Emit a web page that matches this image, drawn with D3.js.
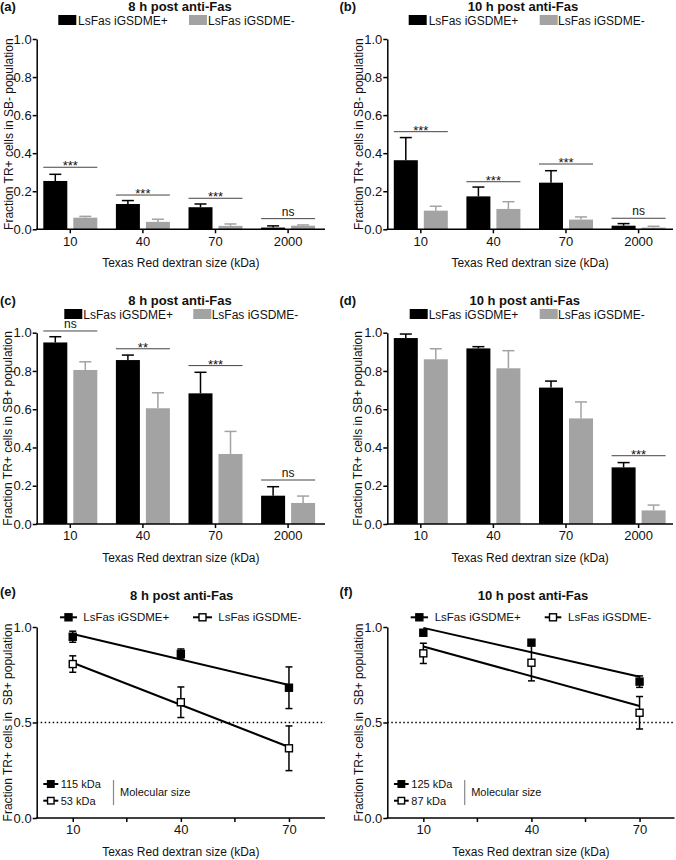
<!DOCTYPE html>
<html><head><meta charset="utf-8">
<script src="https://cdn.jsdelivr.net/npm/d3@7"></script>
<style>body{margin:0;background:#fff}svg{display:block}text{font-family:"Liberation Sans",Arial,sans-serif;fill:#111}</style>
</head><body><svg id="c" width="676" height="860"></svg>
<script>
// ---------- DATA ----------
const categories = ["10", "40", "70", "2000"];
const seriesNames = ["LsFas iGSDME+", "LsFas iGSDME-"];
const yTicksBar = [0, 0.2, 0.4, 0.6, 0.8, 1.0];

// (a) 8 h, SB- population
const a_plus = [0.254, 0.133, 0.116, 0.009];
const a_plusErr = [0.035, 0.018, 0.017, 0.009];
const a_minus = [0.061, 0.039, 0.018, 0.019];
const a_minusErr = [0.007, 0.014, 0.010, 0.004];
const a_sig = ["***", "***", "***", "ns"];
const a_sigY = [0.326, 0.180, 0.163, 0.056];

// (b) 10 h, SB- population
const b_plus = [0.363, 0.173, 0.245, 0.019];
const b_plusErr = [0.119, 0.049, 0.063, 0.011];
const b_minus = [0.098, 0.107, 0.051, 0.009];
const b_minusErr = [0.023, 0.038, 0.014, 0.007];
const b_sig = ["***", "***", "***", "ns"];
const b_sigY = [0.513, 0.250, 0.343, 0.058];

// (c) 8 h, SB+ population
const c_plus = [0.949, 0.857, 0.683, 0.148];
const c_plusErr = [0.030, 0.026, 0.110, 0.047];
const c_minus = [0.805, 0.605, 0.366, 0.110];
const c_minusErr = [0.043, 0.081, 0.118, 0.036];
const c_sig = ["ns", "**", "***", "ns"];
const c_sigY = [1.009, 0.916, 0.828, 0.230];

// (d) 10 h, SB+ population
const d_plus = [0.972, 0.918, 0.713, 0.296];
const d_plusErr = [0.021, 0.009, 0.034, 0.025];
const d_minus = [0.861, 0.814, 0.552, 0.071];
const d_minusErr = [0.055, 0.092, 0.086, 0.028];
const d_sig = [null, null, null, "***"];
const d_sigY = [null, null, null, 0.357];

// (e),(f) line charts
const lineX = [10, 40, 70];
const xTicksLine = [10, 40, 70];
const xMinorLine = [25, 55];
const yTicksLine = [0, 0.5, 1.0];
const e_plus = [0.949, 0.859, 0.682];
const e_plusErr = [0.029, 0.026, 0.109];
const e_minus = [0.806, 0.606, 0.365];
const e_minusErr = [0.043, 0.080, 0.117];
const e_sizes = ["115 kDa", "53 kDa"];
const f_plus = [0.970, 0.918, 0.714];
const f_plusErr = [0.015, 0.009, 0.030];
const f_minus = [0.862, 0.813, 0.551];
const f_minusErr = [0.053, 0.095, 0.085];
const f_sizes = ["125 kDa", "87 kDa"];
const refLine = 0.5;

// ---------- STYLE ----------
const BLACK = "#000", GRAY = "#a3a3a3";
const svg = d3.select("#c");

function styleAxis(g, fs) {
  g.selectAll(".domain").attr("stroke", "#000").attr("stroke-width", 1.5);
  g.selectAll(".tick line").attr("stroke", "#000").attr("stroke-width", 1.5);
  g.selectAll(".tick text").attr("font-size", fs).attr("fill", "#111")
    .style("font-family", '"Liberation Sans",Arial,sans-serif');
}

function header(p) {
  svg.append("text").attr("x", p.labelX).attr("y", p.labelY).attr("font-size", 13)
    .attr("font-weight", "bold").text(p.label);
  svg.append("text").attr("x", p.titleX).attr("y", p.titleY).attr("font-size", 13)
    .attr("font-weight", "bold").attr("text-anchor", "middle").text(p.title);
}

function yTitle(p) {
  svg.append("text").attr("transform", `translate(${p.yTitleX},${(p.top + p.bottom) / 2}) rotate(-90)`)
    .attr("font-size", 12).attr("text-anchor", "middle").attr("dominant-baseline", "central")
    .style("white-space", "pre").text(p.yTitle);
  svg.append("text").attr("x", (p.x0 + p.x1) / 2).attr("y", p.bottom + 37.5)
    .attr("font-size", 12).attr("text-anchor", "middle").text("Texas Red dextran size (kDa)");
}

function barPanel(p) {
  const x = d3.scaleBand().domain(categories).range([p.bandStart, p.bandStart + 290.4]).padding(0);
  const y = d3.scaleLinear().domain([0, 1]).range([p.bottom, p.top]);
  const cx = c => x(c) + x.bandwidth() / 2;
  header(p);
  // legend
  [BLACK, GRAY].forEach((col, i) => {
    svg.append("rect").attr("x", p.legSq[i]).attr("y", p.legY - 5).attr("width", 18).attr("height", 10).attr("fill", col);
    svg.append("text").attr("x", p.legTx[i]).attr("y", p.legY + 4.5).attr("font-size", 12).text(seriesNames[i]);
  });
  const g = svg.append("g");
  const series = [
    { v: p.plus, e: p.plusErr, col: BLACK, off: -27 },
    { v: p.minus, e: p.minusErr, col: GRAY, off: 3 }
  ];
  series.forEach(s => {
    categories.forEach((c, i) => {
      const bx = cx(c) + s.off, mid = bx + 12;
      g.append("line").attr("x1", mid).attr("x2", mid).attr("y1", y(s.v[i])).attr("y2", y(s.v[i] + s.e[i]))
        .attr("stroke", s.col).attr("stroke-width", 1.5);
      g.append("line").attr("x1", mid - 6).attr("x2", mid + 6).attr("y1", y(s.v[i] + s.e[i])).attr("y2", y(s.v[i] + s.e[i]))
        .attr("stroke", s.col).attr("stroke-width", 1.5);
      g.append("rect").attr("x", bx).attr("width", 24).attr("y", y(s.v[i])).attr("height", y(0) - y(s.v[i]))
        .attr("fill", s.col);
    });
  });
  // significance
  categories.forEach((c, i) => {
    if (!p.sig[i]) return;
    const ly = y(p.sigY[i]);
    svg.append("line").attr("x1", cx(c) - 27).attr("x2", cx(c) + 27).attr("y1", ly).attr("y2", ly)
      .attr("stroke", "#444").attr("stroke-width", 1);
    const star = p.sig[i].startsWith("*");
    svg.append("text").attr("x", cx(c)).attr("y", star ? ly + 3 : ly - 3).attr("font-size", star ? 13 : 12)
      .attr("text-anchor", "middle").text(p.sig[i]);
  });
  // axes
  const ya = svg.append("g").attr("transform", `translate(${p.x0},0)`)
    .call(d3.axisLeft(y).tickValues(yTicksBar).tickFormat(d3.format(".1f")).tickSize(4).tickSizeOuter(0).tickPadding(1));
  styleAxis(ya, 13);
  const xa = svg.append("g").attr("transform", `translate(0,${p.bottom})`)
    .call(d3.axisBottom(x).tickSize(4).tickSizeOuter(0).tickPadding(3));
  xa.select(".domain").remove();
  styleAxis(xa, 13);
  svg.append("line").attr("x1", p.x0 - 0.75).attr("x2", p.x1).attr("y1", p.bottom).attr("y2", p.bottom)
    .attr("stroke", "#000").attr("stroke-width", 1.5);
  yTitle(p);
}

function regress(xs, ys) {
  const mx = d3.mean(xs), my = d3.mean(ys);
  const slope = d3.sum(xs, (v, i) => (v - mx) * (ys[i] - my)) / d3.sum(xs, v => (v - mx) ** 2);
  return v => my + slope * (v - mx);
}

function square(g, cx, cy, filled, s) {
  g.append("rect").attr("x", cx - s / 2).attr("y", cy - s / 2).attr("width", s).attr("height", s)
    .attr("fill", filled ? "#000" : "#fff").attr("stroke", "#000").attr("stroke-width", 1.4);
}

function linePanel(p) {
  const x = d3.scaleLinear().domain([0, 80]).range([p.x0, p.x0 + 288.3]);
  const y = d3.scaleLinear().domain([0, 1]).range([p.bottom, p.top]);
  header(p);
  // legend
  [true, false].forEach((filled, i) => {
    const [l1, l2] = p.legLine[i];
    svg.append("line").attr("x1", l1).attr("x2", l2).attr("y1", p.legY).attr("y2", p.legY).attr("stroke", "#000").attr("stroke-width", 2);
    square(svg, (l1 + l2) / 2, p.legY, filled, 7);
    svg.append("text").attr("x", p.legTx[i]).attr("y", p.legY + 4).attr("font-size", 11.5).text(seriesNames[i]);
  });
  // reference line
  svg.append("line").attr("x1", p.x0).attr("x2", p.x1).attr("y1", y(refLine)).attr("y2", y(refLine))
    .attr("stroke", "#000").attr("stroke-width", 1.3).attr("stroke-dasharray", "1.5,2.5");
  const g = svg.append("g");
  const series = [
    { v: p.plus, e: p.plusErr, filled: true },
    { v: p.minus, e: p.minusErr, filled: false }
  ];
  series.forEach(s => {
    lineX.forEach((xv, i) => {
      const px = x(xv), t = y(s.v[i] + s.e[i]), b = y(s.v[i] - s.e[i]);
      g.append("line").attr("x1", px).attr("x2", px).attr("y1", t).attr("y2", b).attr("stroke", "#000").attr("stroke-width", 1.5);
      [t, b].forEach(yy => g.append("line").attr("x1", px - 3.5).attr("x2", px + 3.5).attr("y1", yy).attr("y2", yy)
        .attr("stroke", "#000").attr("stroke-width", 1.5));
    });
  });
  series.forEach(s => {
    const f = regress(lineX, s.v);
    const xs = d3.extent(lineX);
    g.append("path").attr("d", d3.line()(xs.map(v => [x(v), y(f(v))])))
      .attr("stroke", "#000").attr("stroke-width", 2).attr("fill", "none");
  });
  series.forEach(s => {
    lineX.forEach((xv, i) => square(g, x(xv), y(s.v[i]), s.filled, 7));
  });
  // inner legend
  const sizes = p.sizes;
  [true, false].forEach((filled, i) => {
    const ry = p.inY[i];
    svg.append("line").attr("x1", p.inLine[0]).attr("x2", p.inLine[1]).attr("y1", ry).attr("y2", ry).attr("stroke", "#000").attr("stroke-width", 2);
    square(svg, (p.inLine[0] + p.inLine[1]) / 2, ry, filled, 6.5);
    svg.append("text").attr("x", p.inTx).attr("y", ry + 4).attr("font-size", 11).text(sizes[i]);
  });
  svg.append("line").attr("x1", p.inV).attr("x2", p.inV).attr("y1", 780).attr("y2", 805).attr("stroke", "#888").attr("stroke-width", 1.2);
  svg.append("text").attr("x", p.inV + 6.5).attr("y", 796).attr("font-size", 11).text("Molecular size");
  // axes
  const ya = svg.append("g").attr("transform", `translate(${p.x0},0)`)
    .call(d3.axisLeft(y).tickValues(yTicksLine).tickFormat(d3.format(".1f")).tickSize(4).tickSizeOuter(0).tickPadding(1));
  styleAxis(ya, 13);
  const xa = svg.append("g").attr("transform", `translate(0,${p.bottom})`)
    .call(d3.axisBottom(x).tickValues(xTicksLine).tickFormat(d3.format("d")).tickSize(4).tickSizeOuter(0).tickPadding(3));
  xa.select(".domain").remove();
  styleAxis(xa, 13);
  svg.append("g").selectAll("line").data(xMinorLine).join("line")
    .attr("x1", d => x(d)).attr("x2", d => x(d)).attr("y1", p.bottom).attr("y2", p.bottom + 4)
    .attr("stroke", "#000").attr("stroke-width", 1.5);
  svg.append("line").attr("x1", p.x0 - 0.75).attr("x2", p.x1).attr("y1", p.bottom).attr("y2", p.bottom)
    .attr("stroke", "#000").attr("stroke-width", 1.5);
  yTitle(p);
}

barPanel({ label: "(a)", labelX: 0, labelY: 11, title: "8 h post anti-Fas", titleX: 180, titleY: 11,
  legY: 20, legSq: [58.3, 189], legTx: [78, 208], x0: 36.7, x1: 325, bandStart: 34, top: 39, bottom: 229.3,
  yTitle: "Fraction TR+ cells in SB- population", yTitleX: 8.5,
  plus: a_plus, plusErr: a_plusErr, minus: a_minus, minusErr: a_minusErr, sig: a_sig, sigY: a_sigY });
barPanel({ label: "(b)", labelX: 339.5, labelY: 11, title: "10 h post anti-Fas", titleX: 523, titleY: 11,
  legY: 20, legSq: [408.7, 539.7], legTx: [428.7, 558], x0: 387.3, x1: 673, bandStart: 384.5, top: 39, bottom: 229.3,
  yTitle: "Fraction TR+ cells in SB- population", yTitleX: 358.7,
  plus: b_plus, plusErr: b_plusErr, minus: b_minus, minusErr: b_minusErr, sig: b_sig, sigY: b_sigY });
barPanel({ label: "(c)", labelX: 0, labelY: 304.5, title: "8 h post anti-Fas", titleX: 180, titleY: 304.5,
  legY: 314, legSq: [64.3, 193.3], legTx: [83.3, 211.7], x0: 36.7, x1: 325, bandStart: 34, top: 332.7, bottom: 524,
  yTitle: "Fraction TR+ cells in SB+ population", yTitleX: 7.5,
  plus: c_plus, plusErr: c_plusErr, minus: c_minus, minusErr: c_minusErr, sig: c_sig, sigY: c_sigY });
barPanel({ label: "(d)", labelX: 339.5, labelY: 304.5, title: "10 h post anti-Fas", titleX: 524.7, titleY: 304.5,
  legY: 314, legSq: [409.7, 539.7], legTx: [428.7, 558], x0: 387.3, x1: 673, bandStart: 384.5, top: 332.7, bottom: 524,
  yTitle: "Fraction TR+ cells in SB+ population", yTitleX: 358,
  plus: d_plus, plusErr: d_plusErr, minus: d_minus, minusErr: d_minusErr, sig: d_sig, sigY: d_sigY });
linePanel({ label: "(e)", labelX: 0, labelY: 596, title: "8 h post anti-Fas", titleX: 181.7, titleY: 600,
  legY: 617.3, legLine: [[60, 77], [193, 212]], legTx: [83.3, 218.3], x0: 36.7, x1: 325, top: 627, bottom: 818,
  yTitle: "Fraction TR+ cells in  SB+ population", yTitleX: 7.5,
  plus: e_plus, plusErr: e_plusErr, minus: e_minus, minusErr: e_minusErr,
  sizes: e_sizes, inY: [784, 800.7], inLine: [43.3, 58.3], inTx: 60.7, inV: 113.5 });
linePanel({ label: "(f)", labelX: 339.5, labelY: 596, title: "10 h post anti-Fas", titleX: 533, titleY: 600,
  legY: 617.3, legLine: [[410.7, 428], [544.7, 561.3]], legTx: [434.7, 568], x0: 387.3, x1: 674.5, top: 627, bottom: 818,
  yTitle: "Fraction TR+ cells in  SB+ population", yTitleX: 358.7,
  plus: f_plus, plusErr: f_plusErr, minus: f_minus, minusErr: f_minusErr,
  sizes: f_sizes, inY: [784, 800.7], inLine: [394, 408.7], inTx: 411.3, inV: 464.7 });
</script></body></html>
